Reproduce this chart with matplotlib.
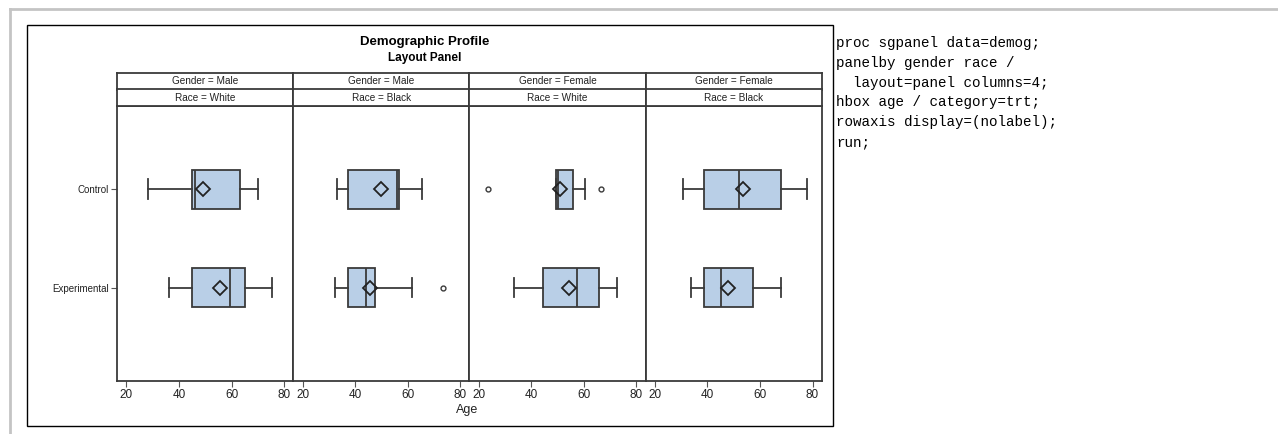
import matplotlib
matplotlib.use('Agg')
import matplotlib.pyplot as plt
from matplotlib.lines import Line2D
from matplotlib.patches import Rectangle

plt.rcParams['font.family'] = ['Liberation Sans', 'DejaVu Sans']

# panel variables
genders = ['Male', 'Male', 'Female', 'Female']
races = ['White', 'Black', 'White', 'Black']
treatments = ['Control', 'Experimental']

# box statistics per panel, [control, experimental]
whis_lo = [[28.0, 36.0], [33.0, 32.2], [49.5, 33.5], [30.7, 33.9]]
q1 = [[45.0, 45.0], [37.2, 37.2], [49.5, 44.5], [38.9, 38.9]]
median = [[46.0, 59.5], [55.8, 44.2], [50.3, 57.5], [52.2, 45.2]]
q3 = [[63.0, 65.2], [56.5, 47.7], [55.8, 65.8], [67.9, 57.3]]
whis_hi = [[70.0, 75.2], [65.3, 61.5], [60.6, 72.5], [77.9, 67.9]]
mean = [[49.1, 55.7], [50.0, 45.8], [51.0, 54.5], [53.5, 48.0]]
outliers = [[[], []], [[], [73.3]], [[23.6, 66.6], []], [[], []]]

age_ticks = [20, 40, 60, 80]

W, H = 1278, 434
fig = plt.figure(figsize=(W / 100, H / 100), dpi=100)


def fx(px):
    return px / W


def fy(py):
    return 1 - py / H


# page borders
fig.add_artist(Line2D([fx(10), 1], [fy(9), fy(9)], color='#c4c4c4', lw=2))
fig.add_artist(Line2D([fx(10), fx(10)], [fy(9), 0], color='#c4c4c4', lw=2))
fig.add_artist(Rectangle((fx(27), fy(426)), fx(833 - 27), (426 - 25) / H,
                         fill=False, ec='black', lw=1))

edge = '#3a3a3a'
fill = '#b9cfe7'
p_left, p_w = 117.3, 176.1
p_top, p_bot = 106, 381
h1_top, h_mid = 73.3, 89.5

for i in range(4):
    x0 = p_left + i * p_w
    ax = fig.add_axes([fx(x0), fy(p_bot), fx(p_w), (p_bot - p_top) / H])
    stats = []
    for j in range(2):
        stats.append(dict(whislo=whis_lo[i][j], q1=q1[i][j], med=median[i][j],
                          q3=q3[i][j], whishi=whis_hi[i][j], mean=mean[i][j],
                          fliers=outliers[i][j]))
    ax.bxp(stats, positions=[0, 1], widths=0.4, capwidths=0.2, vert=False,
           showmeans=True, patch_artist=True,
           boxprops=dict(facecolor=fill, edgecolor=edge, lw=1.3),
           medianprops=dict(color=edge, lw=1.3),
           whiskerprops=dict(color=edge, lw=1.3),
           capprops=dict(color=edge, lw=1.3),
           meanprops=dict(marker='D', markerfacecolor='none',
                          markeredgecolor='#222222', markersize=7, markeredgewidth=1.3),
           flierprops=dict(marker='o', markerfacecolor='none', markeredgecolor=edge,
                           markersize=3.5, markeredgewidth=1))
    ax.set_xlim(16.5, 83.5)
    ax.set_ylim(1 + (p_bot - 288) / 98, -(189 - p_top) / 98)
    ax.set_xticks(age_ticks)
    ax.tick_params(axis='x', labelsize=8.5, length=4, color='#555555',
                   labelcolor='#222222', pad=2)
    if i == 0:
        ax.set_yticks([0, 1])
        ax.set_yticklabels(treatments)
        ax.tick_params(axis='y', labelsize=7, length=4, color='#555555',
                       labelcolor='#222222', pad=2)
    else:
        ax.set_yticks([])
    for s in ax.spines.values():
        s.set_color(edge)
        s.set_linewidth(1.3)

    # two-row panel header
    for top, bot, txt in [(h1_top, h_mid, f'Gender = {genders[i]}'),
                          (h_mid, p_top, f'Race = {races[i]}')]:
        hax = fig.add_axes([fx(x0), fy(bot), fx(p_w), (bot - top) / H])
        hax.set_xticks([])
        hax.set_yticks([])
        for s in hax.spines.values():
            s.set_color(edge)
            s.set_linewidth(1.3)
        hax.text(0.5, 0.5, txt, ha='center', va='center', fontsize=7.2,
                 color='#222222', transform=hax.transAxes)

fig.text(fx(467), fy(410), 'Age', ha='center', va='center', fontsize=9,
         color='#222222')
fig.text(fx(425), fy(42), 'Demographic Profile', ha='center', va='center',
         fontsize=9.5, fontweight='bold')
fig.text(fx(425), fy(58), 'Layout Panel', ha='center', va='center',
         fontsize=8.5, fontweight='bold')

code_lines = ['proc sgpanel data=demog;',
              'panelby gender race /',
              '  layout=panel columns=4;',
              'hbox age / category=trt;',
              'rowaxis display=(nolabel);',
              'run;']
for k, line in enumerate(code_lines):
    fig.text(fx(836), fy(43 + k * 19.8), line, ha='left', va='center',
             fontsize=10.3, family='Liberation Mono', color='black')

fig.savefig('out.png', dpi=100)
